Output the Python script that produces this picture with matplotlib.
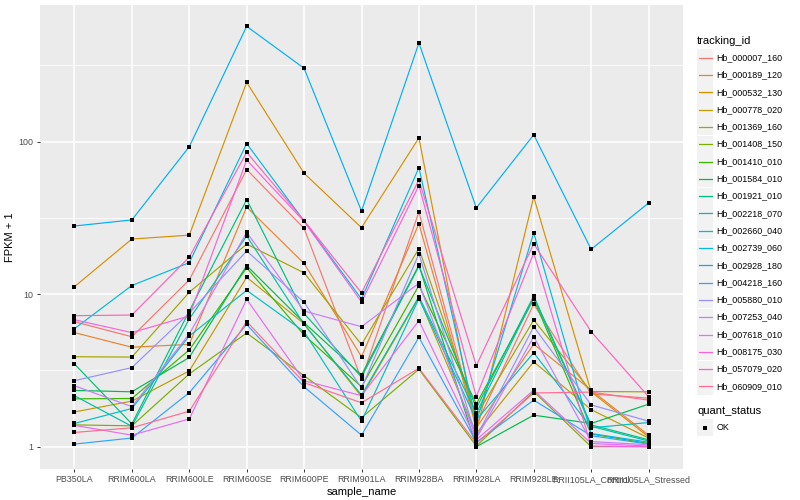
import matplotlib
matplotlib.use("Agg")
import matplotlib.pyplot as plt
from matplotlib.lines import Line2D
from matplotlib.patches import Rectangle
from matplotlib.ticker import FixedLocator, NullFormatter

samples = ["PB350LA", "RRIM600LA", "RRIM600LE", "RRIM600SE", "RRIM600PE", "RRIM901LA",
           "RRIM928BA", "RRIM928LA", "RRIM928LE", "RRII105LA_Control", "RRII105LA_Stressed"]

tracking_ids = ["Hb_000007_160", "Hb_000189_120", "Hb_000532_130", "Hb_000778_020",
                "Hb_001369_160", "Hb_001408_150", "Hb_001410_010", "Hb_001584_010",
                "Hb_001921_010", "Hb_002218_070", "Hb_002660_040", "Hb_002739_060",
                "Hb_002928_180", "Hb_004218_160", "Hb_005880_010", "Hb_007253_040",
                "Hb_007618_010", "Hb_008175_030", "Hb_057079_020", "Hb_060909_010"]

# FPKM + 1, one list per gene, in sample order
hb_000007_160 = [6.6, 5.26, 12.4, 65.7, 27.0, 2.77, 34.6, 1.39, 8.6, 2.22, 2.08]
hb_000189_120 = [5.6, 4.49, 4.69, 37.3, 15.9, 3.89, 29.0, 1.33, 4.70, 2.35, 1.19]
hb_000532_130 = [11.2, 23.0, 24.4, 245, 62.1, 27.3, 106, 1.25, 43.4, 2.29, 1.16]
hb_000778_020 = [1.69, 1.99, 3.14, 12.9, 6.4, 2.13, 9.5, 1.22, 3.60, 1.75, 1.14]
hb_001369_160 = [3.89, 3.87, 10.3, 21.3, 13.8, 4.68, 19.9, 1.60, 6.77, 2.30, 2.29]
hb_001408_150 = [1.39, 1.37, 3.0, 5.57, 2.92, 1.55, 3.22, 1.01, 2.30, 1.0, 1.0]
hb_001410_010 = [2.06, 2.07, 4.31, 14.9, 5.4, 2.47, 11.4, 1.91, 9.26, 1.21, 1.05]
hb_001584_010 = [2.34, 2.29, 3.85, 15.4, 6.5, 2.95, 15.5, 1.0, 1.61, 1.42, 1.90]
hb_001921_010 = [3.49, 1.41, 7.76, 41.7, 7.47, 2.86, 15.3, 1.79, 9.73, 1.39, 1.11]
hb_002218_070 = [2.16, 1.36, 6.88, 24.1, 6.35, 2.18, 9.63, 1.66, 9.51, 1.36, 1.09]
hb_002660_040 = [1.42, 1.78, 5.32, 10.6, 5.68, 1.47, 9.37, 1.50, 4.13, 1.33, 1.44]
hb_002739_060 = [5.94, 11.4, 16.1, 97.3, 30.2, 9.3, 67.6, 1.45, 25.3, 1.22, 1.07]
hb_002928_180 = [28.0, 30.7, 92.7, 571, 303, 35.1, 444, 36.8, 111, 19.7, 39.6]
hb_004218_160 = [1.04, 1.14, 2.26, 6.33, 2.47, 1.19, 5.22, 1.07, 2.02, 1.18, 1.04]
hb_005880_010 = [2.71, 3.30, 7.53, 19.2, 8.85, 2.42, 18.4, 1.16, 6.12, 1.88, 1.47]
hb_007253_040 = [2.51, 1.83, 5.48, 25.4, 7.76, 6.12, 11.8, 1.13, 5.26, 1.08, 1.03]
hb_007618_010 = [1.38, 1.19, 1.52, 9.26, 2.71, 2.16, 6.7, 1.11, 2.35, 1.05, 1.01]
hb_008175_030 = [6.8, 5.6, 7.2, 75.9, 30.0, 8.89, 51.6, 2.13, 18.6, 1.01, 1.0]
hb_057079_020 = [7.23, 7.3, 17.5, 85.2, 30.4, 10.2, 56.1, 3.40, 21.4, 5.68, 2.13]
hb_060909_010 = [1.24, 1.33, 1.71, 6.62, 2.63, 1.94, 3.27, 1.05, 2.25, 2.28, 2.02]

fpkm = [hb_000007_160, hb_000189_120, hb_000532_130, hb_000778_020, hb_001369_160,
        hb_001408_150, hb_001410_010, hb_001584_010, hb_001921_010, hb_002218_070,
        hb_002660_040, hb_002739_060, hb_002928_180, hb_004218_160, hb_005880_010,
        hb_007253_040, hb_007618_010, hb_008175_030, hb_057079_020, hb_060909_010]

# ggplot hue palette for 20 levels
colors = ["#F8766D", "#EA8331", "#D89000", "#C09B00", "#A3A500", "#7CAE00", "#39B600",
          "#00BB4E", "#00BF7D", "#00C1A3", "#00BFC4", "#00BAE0", "#00B0F6", "#35A2FF",
          "#9590FF", "#C77CFF", "#E76BF3", "#FA62DB", "#FF62BC", "#FF6C91"]

plt.rcParams['font.family'] = ['Liberation Sans', 'DejaVu Sans']

W, H = 800, 500
fig = plt.figure(figsize=(8, 5), dpi=100)
ax = fig.add_axes([40 / W, 31 / H, 643 / W, 464 / H])
ax.set_facecolor("#EBEBEB")

x = list(range(len(samples)))
for vals, c in zip(fpkm, colors):
    ax.plot(x, vals, color=c, lw=0.85, zorder=3)
for vals in fpkm:
    ax.plot(x, vals, ls="none", marker="s", ms=3.0, mew=0, color="black", zorder=4)

ax.set_yscale("log")
ax.set_ylim(0.714, 788)
ax.set_xlim(-0.6, len(samples) - 0.4)
ax.yaxis.set_major_locator(FixedLocator([1, 10, 100]))
ax.set_yticklabels(["1", "10", "100"])
ax.yaxis.set_minor_locator(FixedLocator([10 ** 0.5, 10 ** 1.5, 10 ** 2.5]))
ax.yaxis.set_minor_formatter(NullFormatter())
ax.set_xticks(x)
ax.set_xticklabels(samples)

ax.grid(which="major", color="white", lw=1.1, zorder=0)
ax.grid(which="minor", axis="y", color="white", lw=0.55, zorder=0)
ax.set_axisbelow(True)
for s in ax.spines.values():
    s.set_visible(False)
ax.tick_params(which="major", length=2.5, width=0.7, color="#333333",
               labelsize=6.4, labelcolor="#4D4D4D", pad=2)
ax.tick_params(which="minor", length=0)

ax.set_xlabel("sample_name", fontsize=8, labelpad=2)
ax.set_ylabel("FPKM + 1", fontsize=8, labelpad=3)

# legend drawn by hand in pixel coordinates
def fx(px):
    return px / W

def fy(py):
    return 1 - py / H

fig.text(fx(697), fy(40.5), "tracking_id", fontsize=8, va="center", ha="left")
for i, (name, c) in enumerate(zip(tracking_ids, colors)):
    yc = 57.7 + i * 17.3
    fig.patches.append(Rectangle((fx(697), fy(yc + 8.5)), 16 / W, 17 / H,
                                 transform=fig.transFigure, facecolor="#F2F2F2",
                                 edgecolor="none"))
    fig.lines.append(Line2D([fx(698.5), fx(711.5)], [fy(yc), fy(yc)],
                            transform=fig.transFigure, color=c, lw=0.9))
    fig.text(fx(716.5), fy(yc), name, fontsize=6.4, va="center", ha="left")

fig.text(fx(697), fy(411.5), "quant_status", fontsize=8, va="center", ha="left")
fig.patches.append(Rectangle((fx(697), fy(427.5 + 8.5)), 16 / W, 17 / H,
                             transform=fig.transFigure, facecolor="#F2F2F2",
                             edgecolor="none"))
fig.lines.append(Line2D([fx(705)], [fy(427.5)], transform=fig.transFigure,
                        ls="none", marker="s", ms=3.0, mew=0, color="black"))
fig.text(fx(716.5), fy(427.5), "OK", fontsize=6.4, va="center", ha="left")

fig.savefig("out.png", dpi=100)
